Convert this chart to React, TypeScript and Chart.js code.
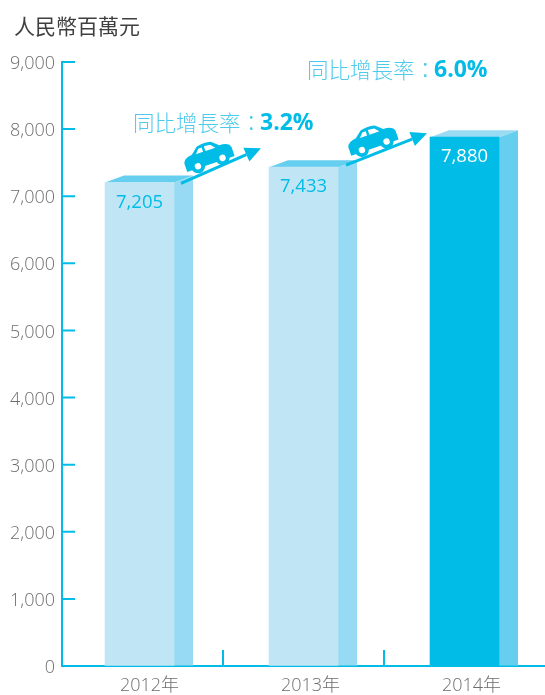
import React, { useEffect, useRef } from "react";
import { Chart, registerables } from "chart.js";

Chart.register(...registerables);

const categories = ["2012年", "2013年", "2014年"];
const revenue = [7205, 7433, 7880];
const valueLabels = ["7,205", "7,433", "7,880"];
const growthLabels = ["3.2%", "6.0%"];
const unitTitle = "人民幣百萬元";
const growthPrefix = "同比增長率：";

const CYAN = "#00BCE7";
const LATIN = '"Open Sans", "Noto Sans CJK TC", sans-serif';
const CJK = '"Noto Sans CJK TC", "Open Sans", sans-serif';

const frontColors = ["#C0E6F6", "#C0E6F6", CYAN];
const sideColors = ["#97DAF3", "#97DAF3", "#66CEEE"];
const topColors = ["#66CEEE", "#66CEEE", "#99DBF3"];
const valueColors = [CYAN, CYAN, "#FFFFFF"];

const DEPTH_X = 19;
const DEPTH_Y = 7;
const BAR_WIDTH = 69;
const FIRST_BAR_SHIFT = -3;

// Car glyph, drawn around its own centre and tilted to climb the arrow.
function drawCar(ctx: CanvasRenderingContext2D, cx: number, cy: number, angle: number) {
  ctx.save();
  ctx.translate(cx, cy);
  ctx.rotate(angle);
  ctx.fillStyle = CYAN;
  ctx.beginPath();
  ctx.moveTo(-25, 9);
  ctx.lineTo(-25, 0);
  ctx.quadraticCurveTo(-24, -5, -15, -6);
  ctx.lineTo(-8, -12);
  ctx.quadraticCurveTo(0, -14, 7, -12);
  ctx.lineTo(14, -6);
  ctx.quadraticCurveTo(24, -6, 25, 0);
  ctx.lineTo(25, 9);
  ctx.closePath();
  ctx.fill();
  ctx.fillStyle = "#FFFFFF";
  ctx.beginPath();
  ctx.moveTo(-11, -5);
  ctx.lineTo(-7, -9.5);
  ctx.lineTo(-3.5, -9.5);
  ctx.lineTo(-3.5, -5);
  ctx.closePath();
  ctx.moveTo(-1, -5);
  ctx.lineTo(-1, -10);
  ctx.lineTo(5.5, -9.5);
  ctx.lineTo(9.5, -5);
  ctx.closePath();
  ctx.fill();
  for (const wx of [-13, 13]) {
    ctx.fillStyle = CYAN;
    ctx.beginPath();
    ctx.arc(wx, 7, 7, 0, Math.PI * 2);
    ctx.fill();
    ctx.fillStyle = "#FFFFFF";
    ctx.beginPath();
    ctx.arc(wx, 7, 3.2, 0, Math.PI * 2);
    ctx.fill();
  }
  ctx.restore();
}

function drawArrow(ctx: CanvasRenderingContext2D, x0: number, y0: number, x1: number, y1: number) {
  const a = Math.atan2(y1 - y0, x1 - x0);
  const len = 16;
  const half = 7.5;
  const bx = x1 - len * Math.cos(a);
  const by = y1 - len * Math.sin(a);
  ctx.save();
  ctx.strokeStyle = CYAN;
  ctx.lineWidth = 3;
  ctx.beginPath();
  ctx.moveTo(x0, y0);
  ctx.lineTo(bx, by);
  ctx.stroke();
  ctx.fillStyle = CYAN;
  ctx.beginPath();
  ctx.moveTo(x1, y1);
  ctx.lineTo(bx + half * Math.sin(a), by - half * Math.cos(a));
  ctx.lineTo(bx - half * Math.sin(a), by + half * Math.cos(a));
  ctx.closePath();
  ctx.fill();
  ctx.restore();
}

function drawGrowthText(ctx: CanvasRenderingContext2D, x: number, y: number, pct: string) {
  ctx.save();
  ctx.textBaseline = "middle";
  ctx.textAlign = "left";
  ctx.fillStyle = "#4CCBEC";
  ctx.font = `300 21.5px ${CJK}`;
  ctx.fillText(growthPrefix, x, y);
  const w = ctx.measureText(growthPrefix).width;
  ctx.fillStyle = CYAN;
  ctx.font = `700 23px ${LATIN}`;
  ctx.fillText(pct, x + w - 2, y);
  ctx.restore();
}

// Shifts the first bar, then adds the extruded faces, axis ticks and callouts.
const boxBars = {
  id: "boxBars",
  afterDatasetsUpdate(chart: any) {
    const first = chart.getDatasetMeta(0).data[0];
    first.x = chart.scales.x.getPixelForValue(0) + FIRST_BAR_SHIFT;
  },
  beforeDatasetsDraw(chart: any) {
    const { ctx } = chart;
    chart.getDatasetMeta(0).data.forEach((bar: any, i: number) => {
      const right = bar.x + BAR_WIDTH / 2;
      const left = bar.x - BAR_WIDTH / 2;
      ctx.fillStyle = sideColors[i];
      ctx.beginPath();
      ctx.moveTo(right, bar.y);
      ctx.lineTo(right + DEPTH_X, bar.y - DEPTH_Y);
      ctx.lineTo(right + DEPTH_X, bar.base);
      ctx.lineTo(right, bar.base);
      ctx.closePath();
      ctx.fill();
      ctx.fillStyle = topColors[i];
      ctx.beginPath();
      ctx.moveTo(left, bar.y);
      ctx.lineTo(left + DEPTH_X, bar.y - DEPTH_Y);
      ctx.lineTo(right + DEPTH_X, bar.y - DEPTH_Y);
      ctx.lineTo(right, bar.y);
      ctx.closePath();
      ctx.fill();
    });
  },
  afterDatasetsDraw(chart: any) {
    const { ctx, scales } = chart;
    const bars = chart.getDatasetMeta(0).data;
    const { x: xs, y: ys } = scales;

    ctx.save();
    ctx.strokeStyle = CYAN;
    ctx.lineWidth = 2;
    ctx.beginPath();
    ys.ticks.forEach((t: any) => {
      if (t.value === 0) return;
      const py = ys.getPixelForValue(t.value);
      ctx.moveTo(xs.left, py);
      ctx.lineTo(xs.left + 13, py);
    });
    for (let i = 1; i < categories.length; i++) {
      const px = (xs.getPixelForValue(i - 1) + xs.getPixelForValue(i)) / 2;
      ctx.moveTo(px, ys.bottom);
      ctx.lineTo(px, ys.bottom - 16);
    }
    ctx.stroke();
    ctx.restore();

    ctx.save();
    ctx.font = `400 18.5px ${LATIN}`;
    ctx.textAlign = "center";
    ctx.textBaseline = "middle";
    bars.forEach((bar: any, i: number) => {
      ctx.fillStyle = valueColors[i];
      ctx.fillText(valueLabels[i], bar.x, bar.y + 20);
    });
    ctx.restore();

    const r0 = bars[0].x + BAR_WIDTH / 2;
    const l1 = bars[1].x - BAR_WIDTH / 2;
    const r1 = bars[1].x + BAR_WIDTH / 2;
    const l2 = bars[2].x - BAR_WIDTH / 2;
    drawArrow(ctx, r0 + 7, bars[0].y + 1, l1 - 8, bars[1].y - 19);
    drawArrow(ctx, r1 + 8, bars[1].y - 2, l2 - 3, bars[2].y - 4);
    drawCar(ctx, r0 + 34, bars[0].y - 27, -0.33);
    drawCar(ctx, r1 + 34, bars[1].y - 28, -0.33);
    drawGrowthText(ctx, l1 - 136, bars[1].y - 44, growthLabels[0]);
    drawGrowthText(ctx, l2 - 123, bars[2].y - 67, growthLabels[1]);

    ctx.save();
    ctx.fillStyle = "#3F3F3F";
    ctx.font = `400 21px ${CJK}`;
    ctx.textAlign = "left";
    ctx.textBaseline = "middle";
    ctx.fillText(unitTitle, 14, 26);
    ctx.restore();
  },
};

export default function App() {
  const ref = useRef<HTMLCanvasElement>(null);
  useEffect(() => {
    const chart = new Chart(ref.current!, {
      type: "bar",
      data: {
        labels: categories,
        datasets: [
          {
            data: revenue,
            backgroundColor: frontColors,
            barThickness: BAR_WIDTH,
            borderWidth: 0,
          },
        ],
      },
      options: {
        animation: false,
        responsive: false,
        layout: { padding: { top: 62, left: 0, right: 0, bottom: 0 } },
        plugins: { legend: { display: false }, tooltip: { enabled: false } },
        scales: {
          x: {
            grid: { display: true, drawOnChartArea: false, drawTicks: false },
            border: { color: CYAN, width: 2 },
            afterFit: (s: any) => {
              s.height = 29;
            },
            ticks: {
              padding: 9,
              labelOffset: 7,
              maxRotation: 0,
              color: "#6E6E6E",
              font: { family: LATIN, size: 18, weight: "300" },
            },
          },
          y: {
            min: 0,
            max: 9000,
            grid: { display: true, drawOnChartArea: false, drawTicks: false },
            border: { color: CYAN, width: 2 },
            afterFit: (s: any) => {
              s.width = 62;
            },
            ticks: {
              stepSize: 1000,
              padding: 7,
              labelOffset: 2,
              color: "#6E6E6E",
              font: { family: LATIN, size: 18, weight: "300" },
              callback: (v: any) => Number(v).toLocaleString("en-US"),
            },
          },
        },
      },
      plugins: [boxBars],
    } as any);
    return () => chart.destroy();
  }, []);
  return (
    <div style={{ position: "absolute", left: 0, top: 0, width: 545, height: 695, background: "#fff" }}>
      <canvas ref={ref} width={545} height={695} style={{ display: "block" }} />
    </div>
  );
}
